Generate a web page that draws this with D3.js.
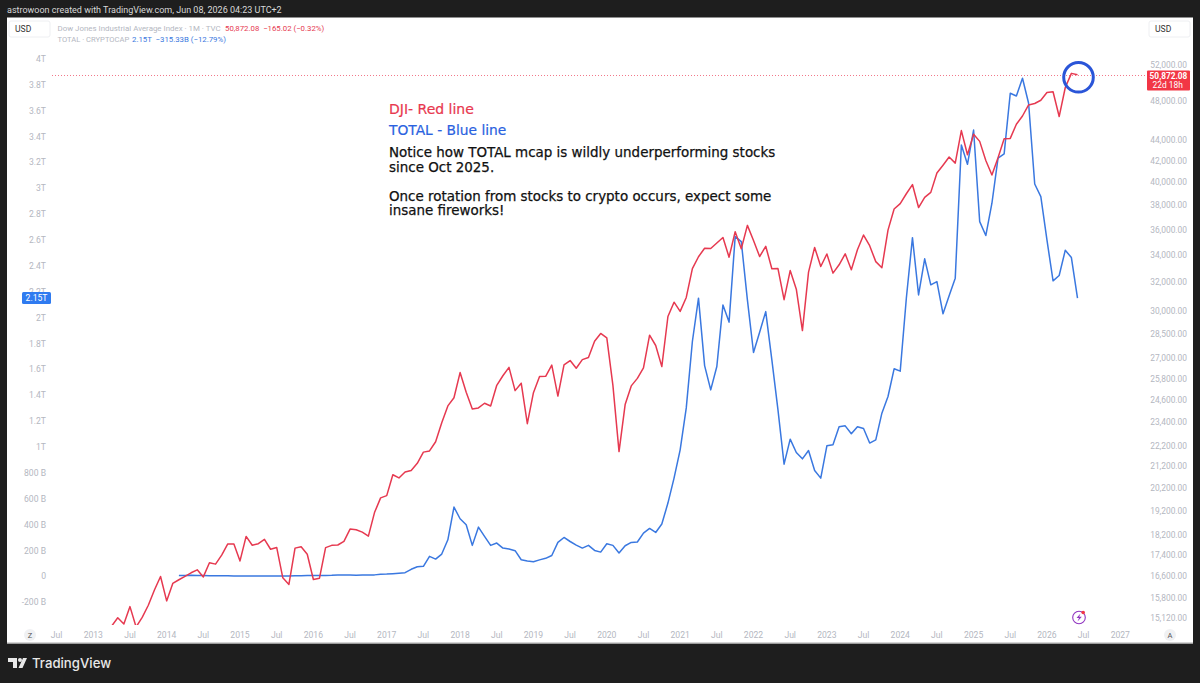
<!DOCTYPE html>
<html><head><meta charset="utf-8">
<script src="https://cdn.jsdelivr.net/npm/d3@7"></script>
<style>html,body{margin:0;padding:0;background:#1e1e1e;overflow:hidden}svg{display:block}text{font-family:Roboto,sans-serif}text.note{font-family:"DejaVu Sans",sans-serif}</style>
</head><body><svg id="c" width="1200" height="683"></svg>
<script>
// Months since Jan 2013 of each series' first value
const djiStart = 3, totalStart = 14;
// Dow Jones Industrial Average, monthly close, Apr 2013 - Jun 2026
const dji = [14839,15116,14910,15500,14810,15130,15546,16086,16577,
15699,16322,16458,16581,16717,16827,16563,17098,17043,17391,17828,17823,
17165,18133,17776,17841,18011,17620,17690,16528,16285,17664,17720,17425,
16466,16517,17685,17774,17787,17930,18432,18401,18308,18142,19124,19763,
19864,20812,20663,20941,21009,21350,21891,21948,22405,23377,24272,24719,
26149,25029,24103,24163,24416,24271,25415,25965,26458,25116,25538,23327,
24999,25916,25929,26593,24815,26600,26864,26403,26917,27046,28051,28538,
28256,25409,21917,24346,25383,25813,26428,28430,27781,26502,29639,30606,
29983,30932,32982,33875,34529,34503,34935,35361,33844,35820,34484,36338,
35132,33893,34678,32977,32990,30775,32845,31510,28725,32733,34590,33147,
34086,32657,33274,34098,32908,34408,35560,34722,33508,33053,35951,37690,
38150,38996,39807,37816,38686,39119,40842,41563,42330,41763,44911,42544,
44545,43841,42002,40669,42270,44095,44131,45545,46398,47563,47716,48063,
48892,48978,46342,49450,51037,50872];
// TOTAL crypto market cap, monthly close in billions, Mar 2014 - Jun 2026
const total = [8,7,9,8,8,6,5,4.6,5,4,
3.3,3.6,3.5,3.3,3.3,3.6,4.1,3.3,3.4,4.4,5.5,7,
6.8,8,8,8.5,11,12,10.5,10,10.6,11,12,17.7,
18,21,25,29,55,75,78,155,134,173,283,536,
446,399,240,381,309,240,258,219,212,199,129,120,
114,128,140,162,263,301,270,242,219,240,201,188,
253,240,181,237,263,266,335,371,340,405,567,760,
979,1303,1816,2151,1630,1442,1623,2099,1966,2627,2588,2138,
1731,1888,2047,1674,1288,868,1061,958,909,973,819,760,
1010,1018,1157,1164,1103,1157,1144,1031,1056,1262,1391,1605,
1587,2150,2619,2176,2455,2254,2279,2030,2169,2306,3335,3186,
3451,2743,2635,2885,3233,3266,3735,3714,3851,3658,3034,2936,
2601,2285,2326,2522,2465,2151];
const leftTicks = [4000,3800,3600,3400,3200,3000,2800,2600,2400,2200,2000,1800,1600,1400,1200,1000,800,600,400,200,0,-200];
const rightTicks = [52000,48000,44000,42000,40000,38000,36000,34000,32000,30000,28500,27000,25800,24600,23400,22200,21200,20200,19200,18200,17400,16600,15800,15120];
const timeLabels = ["Jul","2013","Jul","2014","Jul","2015","Jul","2016","Jul","2017","Jul","2018","Jul","2019","Jul","2020","Jul","2021","Jul","2022","Jul","2023","Jul","2024","Jul","2025","Jul","2026","Jul","2027"];
const timeTickStart = -6;
const title = "astrowoon created with TradingView.com, Jun 08, 2026 04:23 UTC+2";
const notes = ["Notice how TOTAL mcap is wildly underperforming stocks","since Oct 2025.","Once rotation from stocks to crypto occurs, expect some","insane fireworks!"];

const RED="#e63950", BLUE="#3a78e0", TICK="#b4b7bf";
const svg=d3.select("#c");
const x=d3.scaleLinear().domain([0,168]).range([93.3,1120.3]);
const yR=d3.scaleLog().domain([15120,52000]).range([617.7,65]);
const yL=d3.scaleLinear().domain([-200,4000]).range([602.3,59]);

svg.append("rect").attr("width",1200).attr("height",683).attr("fill","#1e1e1e");
svg.append("rect").attr("x",7).attr("y",17.5).attr("width",1186).attr("height",626).attr("fill","#fff");
svg.append("rect").attr("x",7).attr("y",642.5).attr("width",1186).attr("height",1).attr("fill","#aaa");

svg.append("text").attr("x",7).attr("y",13).attr("fill","#d8d8d8").attr("font-size",9).text(title);

// USD buttons
[9,1149].forEach(bx=>{
  svg.append("rect").attr("x",bx).attr("y",21).attr("width",41).attr("height",16).attr("rx",2).attr("fill","#fff").attr("stroke","#eeeff2");
  svg.append("text").attr("x",bx+6).attr("y",32.3).attr("fill","#333").attr("font-size",8.6).text("USD");
});

// legend
function legend(lx,y,size,fill,s){
  svg.append("text").attr("x",lx).attr("y",y).attr("font-size",size).attr("fill",fill).attr("xml:space","preserve").text(s);
}
legend(57.5,30.5,7.9,"#b4b7bf","Dow Jones Industrial Average Index · 1M · TVC");
legend(225,30.5,7.8,RED,"50,872.08  −165.02 (−0.32%)");
legend(57.5,41.5,7.6,"#b4b7bf","TOTAL · CRYPTOCAP");
legend(132,41.5,7.8,BLUE,"2.15T  −315.33B (−12.79%)");

// left axis
const fmtL=v=>v===0?"0":(Math.abs(v)>=1000?(v/1000)+"T":v+" B");
svg.append("g").selectAll("text").data(leftTicks).join("text")
 .attr("x",46).attr("y",d=>yL(d)+3).attr("text-anchor","end").attr("fill",TICK).attr("font-size",8.6).text(fmtL);
// right axis
svg.append("g").selectAll("text").data(rightTicks).join("text")
 .attr("x",1187).attr("y",d=>yR(d)+3).attr("text-anchor","end").attr("fill",TICK).attr("font-size",8.4).text(d3.format(",.2f"));
// time axis
svg.append("g").selectAll("text").data(timeLabels).join("text")
 .attr("x",(d,i)=>x(timeTickStart+i*6)).attr("y",637.5).attr("text-anchor","middle").attr("fill",TICK).attr("font-size",8.6).text(d=>d);

// price line
const py=Math.round(yR(50872))+.5;
svg.append("line").attr("x1",52).attr("x2",1147).attr("y1",py).attr("y2",py).attr("stroke","#f2788a").attr("stroke-width",1).attr("stroke-dasharray","1 2");

// clip + lines
svg.append("clipPath").attr("id","pane").append("rect").attr("x",52).attr("y",18).attr("width",1094).attr("height",607);
const g=svg.append("g").attr("clip-path","url(#pane)");
g.append("path").attr("d",d3.line().x((d,i)=>x(totalStart+i)).y(d=>yL(d))(total)).attr("fill","none").attr("stroke",BLUE).attr("stroke-width",1.5).attr("stroke-linejoin","round");
g.append("path").attr("d",d3.line().x((d,i)=>x(djiStart+i)).y(d=>yR(d))(dji)).attr("fill","none").attr("stroke",RED).attr("stroke-width",1.5).attr("stroke-linejoin","round");

// price labels
svg.append("rect").attr("x",1147).attr("y",70.5).attr("width",43).attr("height",20).attr("rx",1).attr("fill","#f23645");
svg.append("text").attr("x",1168.5).attr("y",78.8).attr("text-anchor","middle").attr("fill","#fff").attr("font-size",8.3).attr("font-weight","bold").text("50,872.08");
svg.append("text").attr("x",1152.5).attr("y",87.8).attr("fill","#fff").attr("font-size",8.4).text("22d 18h");
svg.append("rect").attr("x",22).attr("y",292).attr("width",29).attr("height",12).attr("rx",1.5).attr("fill","#2f7bf0");
svg.append("text").attr("x",36.5).attr("y",301).attr("text-anchor","middle").attr("fill","#fff").attr("font-size",8.6).text("2.15T");

// annotation
svg.append("circle").attr("cx",1078.5).attr("cy",77.3).attr("r",14.8).attr("fill","none").attr("stroke","#2a55d8").attr("stroke-width",3);
svg.append("text").attr("class","note").attr("x",389).attr("y",113.5).attr("fill","#e8384f").attr("font-size",14).attr("stroke","#e8384f").attr("stroke-width",.2).text("DJI- Red line");
svg.append("text").attr("class","note").attr("x",389).attr("y",135).attr("fill","#2a62e0").attr("font-size",13.8).attr("stroke","#2a62e0").attr("stroke-width",.2).text("TOTAL - Blue line");
[157,172,201,215].forEach((y,i)=>svg.append("text").attr("class","note").attr("x",389).attr("y",y).attr("fill","#111").attr("font-size",13.45).attr("stroke","#111").attr("stroke-width",.25).text(notes[i]));

// Z / A buttons
[[30,"Z"],[1170,"A"]].forEach(b=>{
  svg.append("circle").attr("cx",b[0]).attr("cy",635).attr("r",6).attr("fill","#f0f1f3");
  svg.append("text").attr("x",b[0]).attr("y",638).attr("text-anchor","middle").attr("fill","#555").attr("font-size",7.5).text(b[1]);
});
// bolt icon
svg.append("circle").attr("cx",1079).attr("cy",617.5).attr("r",6.3).attr("fill","#fff").attr("stroke","#9035c0").attr("stroke-width",1.1);
svg.append("path").attr("d","M1080.5 613.5L1076.5 618H1079L1077.5 621.5L1081.8 616.8H1079.2Z").attr("fill","#9035c0");
svg.append("circle").attr("cx",1083.2).attr("cy",612.5).attr("r",1.8).attr("fill","#f23645");

// TradingView logo
svg.append("path").attr("d","M8 658H17V668H13V662H8ZM23 658H27L22.5 668H18.5Z").attr("fill","#e8e8e8");
svg.append("circle").attr("cx",20).attr("cy",660).attr("r",2).attr("fill","#e8e8e8");
svg.append("text").attr("x",32).attr("y",668).attr("fill","#e8e8e8").attr("font-size",13.2).attr("style","font-family:Inter,Roboto,sans-serif").attr("font-weight",500).text("TradingView");
</script></body></html>
